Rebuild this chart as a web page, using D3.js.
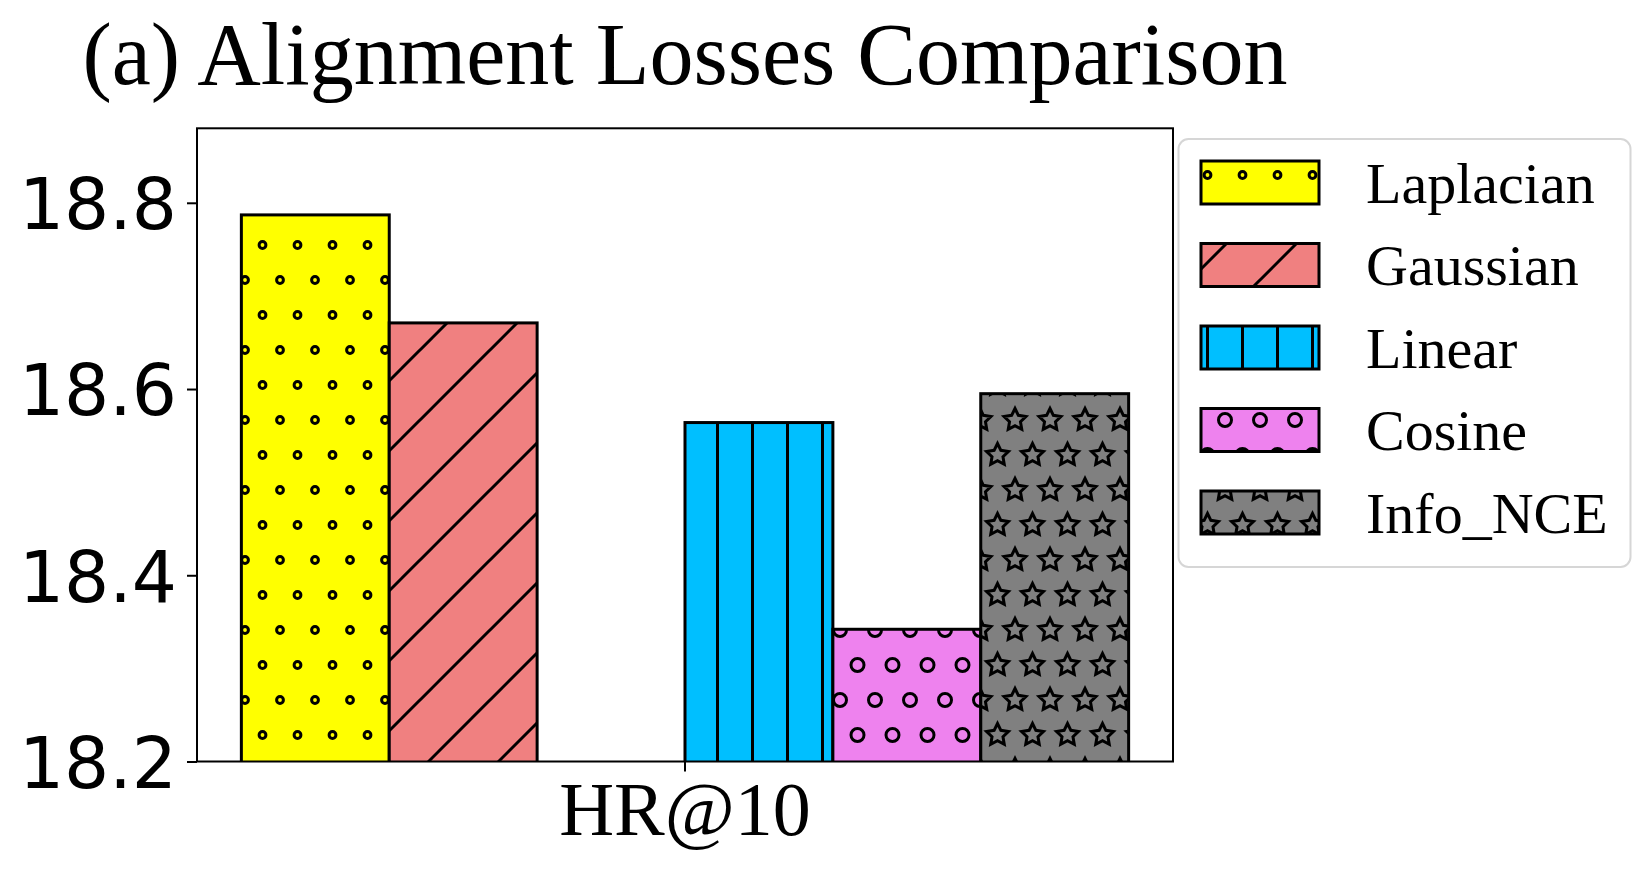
<!DOCTYPE html>
<html>
<head>
<meta charset="utf-8">
<script src="https://d3js.org/d3.v7.min.js"></script>
<style>
  body { margin: 0; background: #fff; }
  svg { display: block; }
</style>
</head>
<body>
<svg width="1652" height="873"></svg>
<script>

// data
var categories = ["HR@10"];
var series = ["Laplacian", "Gaussian", "Linear", "Cosine", "Info_NCE"];
var hr10 = [18.787, 18.671, 18.564, 18.342, 18.595];
var colors = ["#ffff00", "#f08080", "#00bfff", "#ee82ee", "#808080"];
var hatches = ["dots", "slash", "vline", "rings", "stars"];
var yTicks = [18.2, 18.4, 18.6, 18.8];

var svg = d3.select("svg");

// plot area in page pixels (note: "top" is reserved on window)
var axLeft = 197, axRight = 1173, axTop = 128.3, axBottom = 761.5;

// matplotlib style 5% margins around the group of six bar slots (one slot left empty)
var xPos = d3.scaleLinear().domain([-0.3, 6.3]).range([axLeft, axRight]);
var slot = d3.scaleBand()
    .domain(["Laplacian", "Gaussian", "_gap", "Linear", "Cosine", "Info_NCE"])
    .range([xPos(0), xPos(6)]);
var xCat = d3.scaleBand().domain(categories).range([xPos(0), xPos(6)]);

var y = d3.scaleLinear().domain([18.2, 18.88]).range([axBottom, axTop]);

var defs = svg.append("defs");
var hw = 3;   // hatch line width

defs.append("clipPath").attr("id", "plotClip")
    .append("rect")
    .attr("x", axLeft).attr("y", axTop)
    .attr("width", axRight - axLeft).attr("height", axBottom - axTop);

// hatch patterns, anchored to the page origin like matplotlib hatches
function makePattern(id, bg, w, h) {
    var p = defs.append("pattern")
        .attr("id", id)
        .attr("patternUnits", "userSpaceOnUse")
        .attr("width", w).attr("height", h);
    p.append("rect").attr("width", w).attr("height", h).attr("fill", bg);
    return p;
}

var staggered = [[0, 0], [35, 0], [0, 70], [35, 70], [17.5, 35]];

function starPath(r) {
    var pts = [];
    for (var k = 0; k < 10; k++) {
        var rr = k % 2 === 0 ? r : r * 0.5;
        var a = -Math.PI / 2 + k * Math.PI / 5;
        pts.push([rr * Math.cos(a), rr * Math.sin(a)]);
    }
    return "M" + pts.map(function (p) { return p[0].toFixed(2) + "," + p[1].toFixed(2); }).join("L") + "Z";
}

hatches.forEach(function (h, i) {
    var id = "hatch-" + h;
    var p;
    if (h === "dots" || h === "rings") {
        p = makePattern(id, colors[i], 35, 70);
        staggered.forEach(function (c) {
            p.append("circle")
                .attr("cx", c[0]).attr("cy", c[1])
                .attr("r", h === "dots" ? 3.4 : 6.5)
                .attr("fill", "none")
                .attr("stroke", "#000")
                .attr("stroke-width", hw);
        });
    } else if (h === "stars") {
        p = makePattern(id, colors[i], 35, 70);
        staggered.forEach(function (c) {
            p.append("path")
                .attr("d", starPath(11.5))
                .attr("transform", "translate(" + c[0] + "," + c[1] + ")")
                .attr("fill", "none")
                .attr("stroke", "#000")
                .attr("stroke-width", hw)
                .attr("stroke-linejoin", "miter");
        });
    } else if (h === "slash") {
        p = makePattern(id, colors[i], 70, 70);
        [[-5, 75, 75, -5], [-5, 5, 5, -5], [65, 75, 75, 65]].forEach(function (l) {
            p.append("line")
                .attr("x1", l[0]).attr("y1", l[1]).attr("x2", l[2]).attr("y2", l[3])
                .attr("stroke", "#000").attr("stroke-width", hw);
        });
    } else {
        p = makePattern(id, colors[i], 35, 35);
        p.append("line")
            .attr("x1", 17.5).attr("y1", -1).attr("x2", 17.5).attr("y2", 36)
            .attr("stroke", "#000").attr("stroke-width", hw);
    }
});

// bars
var bars = svg.append("g").attr("clip-path", "url(#plotClip)");

bars.selectAll("rect")
    .data(series)
    .enter()
    .append("rect")
    .attr("x", function (d) { return slot(d); })
    .attr("y", function (d, i) { return y(hr10[i]); })
    .attr("width", slot.bandwidth())
    .attr("height", function (d, i) { return axBottom - y(hr10[i]) + 20; })
    .attr("fill", function (d, i) { return "url(#hatch-" + hatches[i] + ")"; })
    .attr("stroke", "#000")
    .attr("stroke-width", 3);

// axes
var yAxis = svg.append("g")
    .attr("transform", "translate(" + axLeft + ",0)")
    .call(d3.axisLeft(y).tickValues(yTicks).tickFormat(d3.format(".1f"))
        .tickSize(10).tickSizeOuter(0).tickPadding(10));
yAxis.select(".domain").remove();
yAxis.selectAll("line").attr("stroke-width", 2);
yAxis.selectAll("text")
    .attr("dy", "0.365em")
    .style("font-family", "'DejaVu Sans'")
    .style("font-size", "71px")
    .attr("fill", "#000");

var xAxis = svg.append("g")
    .attr("transform", "translate(0," + axBottom + ")")
    .call(d3.axisBottom(xCat).tickSize(10).tickSizeOuter(0).tickPadding(10));
xAxis.select(".domain").remove();
xAxis.selectAll("line").attr("stroke-width", 2);
xAxis.selectAll("text")
    .style("font-family", "'Liberation Serif'")
    .style("font-size", "76px")
    .attr("fill", "#000");

// frame
svg.append("rect")
    .attr("x", axLeft).attr("y", axTop)
    .attr("width", axRight - axLeft).attr("height", axBottom - axTop)
    .attr("fill", "none")
    .attr("stroke", "#000")
    .attr("stroke-width", 2);

// title
svg.append("text")
    .attr("x", (axLeft + axRight) / 2)
    .attr("y", 84)
    .attr("text-anchor", "middle")
    .style("font-family", "'Liberation Serif'")
    .style("font-size", "88px")
    .text("(a) Alignment Losses Comparison");

// legend
var legend = svg.append("g");
legend.append("rect")
    .attr("x", 1178.5).attr("y", 139)
    .attr("width", 452).attr("height", 428)
    .attr("rx", 10)
    .attr("fill", "#fff")
    .attr("fill-opacity", 0.8)
    .attr("stroke", "#d6d6d6")
    .attr("stroke-width", 2);

var entry = legend.selectAll(".entry")
    .data(series)
    .enter()
    .append("g")
    .attr("class", "entry");

entry.append("rect")
    .attr("x", 1201)
    .attr("y", function (d, i) { return 161 + i * 82.5; })
    .attr("width", 118)
    .attr("height", 43)
    .attr("fill", function (d, i) { return "url(#hatch-" + hatches[i] + ")"; })
    .attr("stroke", "#000")
    .attr("stroke-width", 3);

entry.append("text")
    .attr("x", 1366)
    .attr("y", function (d, i) { return 202.5 + i * 82.5; })
    .style("font-family", "'Liberation Serif'")
    .style("font-size", "58px")
    .text(function (d) { return d; });

</script>
</body>
</html>
